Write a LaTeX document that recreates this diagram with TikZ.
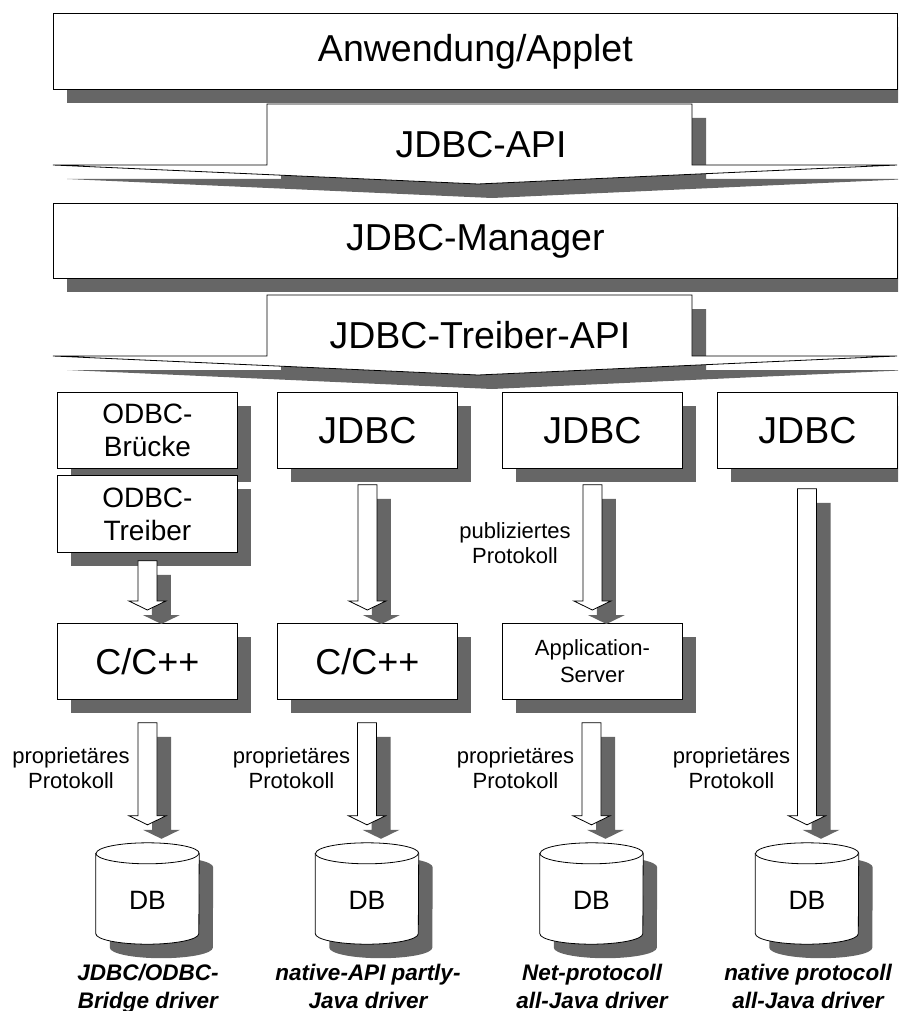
\documentclass[tikz,border=0pt]{standalone}
\usepackage{fontspec}
\setmainfont{Liberation Sans}
\usetikzlibrary{shadows,calc}
\definecolor{shadowgray}{RGB}{102,102,102}
\tikzset{
  box/.style={draw=black, line width=0.8pt, fill=white, inner sep=0pt, anchor=north west,
    align=center,
    drop shadow={shadow xshift=14pt, shadow yshift=-14pt, fill=shadowgray, opacity=1}},
  bigfont/.style={font=\fontsize{37.5}{45}\selectfont},
  ccfont/.style={font=\fontsize{36}{43}\selectfont},
  odbcfont/.style={font=\fontsize{28}{33}\selectfont},
  appfont/.style={font=\fontsize{22}{27}\selectfont},
  labelfont/.style={font=\fontsize{22}{25}\selectfont, align=center, inner sep=0pt, anchor=north},
  dbfont/.style={font=\fontsize{26.5}{30}\selectfont, inner sep=0pt, anchor=base},
  drvfont/.style={font=\fontsize{22.5}{28}\selectfont\bfseries\itshape, align=center, inner sep=0pt, anchor=north},
  chevron/.style={draw=black, line width=0.8pt, fill=white, line join=miter},
  arrowbody/.style={draw=black, line width=0.8pt, fill=white, line join=miter},
  cyl/.style={draw=black, line width=0.8pt, fill=white},
  dbarea/.style={minimum width=103pt, minimum height=101pt, inner sep=0pt, draw=none}
}
% block arrow from node #1 to node #2, gap at top #3, gap at tip #4
\newcommand\blockarrow[4]{%
  \path let \p1=(#1.south), \p2=(#2.north) in
    coordinate (ta) at (\x2,\y1-#3)
    coordinate (tb) at (\x2,\y2+#4)
    coordinate (tas) at (\x2+14pt,\y1-#3-14pt)
    coordinate (tbs) at (\x2+14pt,\y2+#4-14pt);
  \fill[shadowgray] ($(tas)+(-9.5pt,0pt)$) -- ($(tas)+(9.5pt,0pt)$) -- ($(tbs)+(9.5pt,9pt)$)
     -- ($(tbs)+(18.5pt,9pt)$) -- (tbs) -- ($(tbs)+(-18.5pt,9pt)$) -- ($(tbs)+(-9.5pt,9pt)$) -- cycle;
  \draw[arrowbody] ($(ta)+(-9.5pt,0pt)$) -- ($(ta)+(9.5pt,0pt)$) -- ($(tb)+(9.5pt,9pt)$)
     -- ($(tb)+(18.5pt,9pt)$) -- (tb) -- ($(tb)+(-18.5pt,9pt)$) -- ($(tb)+(-9.5pt,9pt)$) -- cycle;
}
% database cylinder drawn around node #1
\newcommand\dbcyl[1]{%
  \fill[shadowgray] let \p1=(#1.north west), \p2=(#1.south east) in
    (\x1+14pt,\y1-24.5pt) -- (\x1+14pt,\y2-3.5pt)
    arc[start angle=180,end angle=360,x radius=51.5pt,y radius=10.5pt]
    -- (\x2+14pt,\y1-24.5pt)
    arc[start angle=0,end angle=180,x radius=51.5pt,y radius=10.5pt] -- cycle;
  \draw[cyl] let \p1=(#1.north west), \p2=(#1.south east) in
    (\x1,\y1-10.5pt) -- (\x1,\y2+10.5pt)
    arc[start angle=180,end angle=360,x radius=51.5pt,y radius=10.5pt]
    -- (\x2,\y1-10.5pt)
    arc[start angle=0,end angle=180,x radius=51.5pt,y radius=10.5pt] -- cycle;
  \draw[cyl, fill=none] let \p1=(#1.north west) in
    (\x1,\y1-10.5pt) arc[start angle=180,end angle=360,x radius=51.5pt,y radius=10.5pt];
}
\begin{document}
\begin{tikzpicture}[x=1pt,y=-1pt]
\useasboundingbox (0,0) rectangle (898,1011);
\clip (0,0) rectangle (898,1011);

% top layers
\node[box, bigfont, minimum width=844pt, minimum height=76pt] (app) at (53,13) {Anwendung/Applet};

\fill[shadowgray] (67,179) -- (281,179) -- (281,118) -- (706,118) -- (706,179) -- (911,179) -- (492,198) -- cycle;
\draw[chevron] (53,165) -- (267,165) -- (267,104) -- (692,104) -- (692,165) -- (897,165) -- (478,184) -- cycle;
\node[bigfont, inner sep=0pt, anchor=base] (api) at (481,158) {JDBC-API};

\node[box, bigfont, minimum width=844pt, minimum height=75pt] (mgr) at (53,203) {JDBC-Manager};

\fill[shadowgray] (67,370) -- (281,370) -- (281,309) -- (706,309) -- (706,370) -- (911,370) -- (492,389) -- cycle;
\draw[chevron] (53,356) -- (267,356) -- (267,295) -- (692,295) -- (692,356) -- (897,356) -- (478,375) -- cycle;
\node[bigfont, inner sep=0pt, anchor=base] (tapi) at (480,348) {JDBC-Treiber-API};

% driver boxes
\node[box, odbcfont, minimum width=180pt, minimum height=76pt] (bruecke) at (57,392) {ODBC-\\Brücke};
\node[box, odbcfont, minimum width=180pt, minimum height=77pt] (treiber) at (57,475) {ODBC-\\Treiber};
\node[box, bigfont, minimum width=180pt, minimum height=76pt] (jdbc2) at (277,392) {JDBC};
\node[box, bigfont, minimum width=180pt, minimum height=76pt] (jdbc3) at (502,392) {JDBC};
\node[box, bigfont, minimum width=180pt, minimum height=76pt] (jdbc4) at (717,392) {JDBC};

\node[box, ccfont, minimum width=180pt, minimum height=76pt] (cc1) at (57,623) {C/C++};
\node[box, ccfont, minimum width=180pt, minimum height=76pt] (cc2) at (277,623) {C/C++};
\node[box, appfont, minimum width=180pt, minimum height=76pt] (appsrv) at (502,623) {Application-\\Server};

% databases
\node[dbarea] (db1) at (147.5,893.5) {};
\node[dbarea] (db2) at (367,893.5) {};
\node[dbarea] (db3) at (591.5,893.5) {};
\node[dbarea] (db4) at (807,893.5) {};
\dbcyl{db1}
\dbcyl{db2}
\dbcyl{db3}
\dbcyl{db4}
\node[dbfont] (dbt1) at (147.5,909) {DB};
\node[dbfont] (dbt2) at (367,909) {DB};
\node[dbfont] (dbt3) at (591.5,909) {DB};
\node[dbfont] (dbt4) at (807,909) {DB};

% arrows
\blockarrow{treiber}{cc1}{8pt}{13pt}
\blockarrow{jdbc2}{cc2}{16pt}{13pt}
\blockarrow{jdbc3}{appsrv}{16pt}{13pt}
\blockarrow{jdbc4}{db4}{20pt}{18pt}
\blockarrow{cc1}{db1}{23pt}{18pt}
\blockarrow{cc2}{db2}{23pt}{18pt}
\blockarrow{appsrv}{db3}{23pt}{18pt}

% arrow labels
\node[labelfont] (pub) at (515,522) {publiziertes\\Protokoll};
\node[labelfont] (prop1) at (71,747) {proprietäres\\Protokoll};
\node[labelfont] (prop2) at (291.5,747) {proprietäres\\Protokoll};
\node[labelfont] (prop3) at (515.5,747) {proprietäres\\Protokoll};
\node[labelfont] (prop4) at (731.5,747) {proprietäres\\Protokoll};

% driver type captions
\node[drvfont] (drv1) at (148,963.5) {JDBC/ODBC-\\Bridge driver};
\node[drvfont] (drv2) at (368,963.5) {native-API partly-\\Java driver};
\node[drvfont] (drv3) at (592,963.5) {Net-protocoll\\all-Java driver};
\node[drvfont] (drv4) at (808,963.5) {native protocoll\\all-Java driver};
\end{tikzpicture}
\end{document}
